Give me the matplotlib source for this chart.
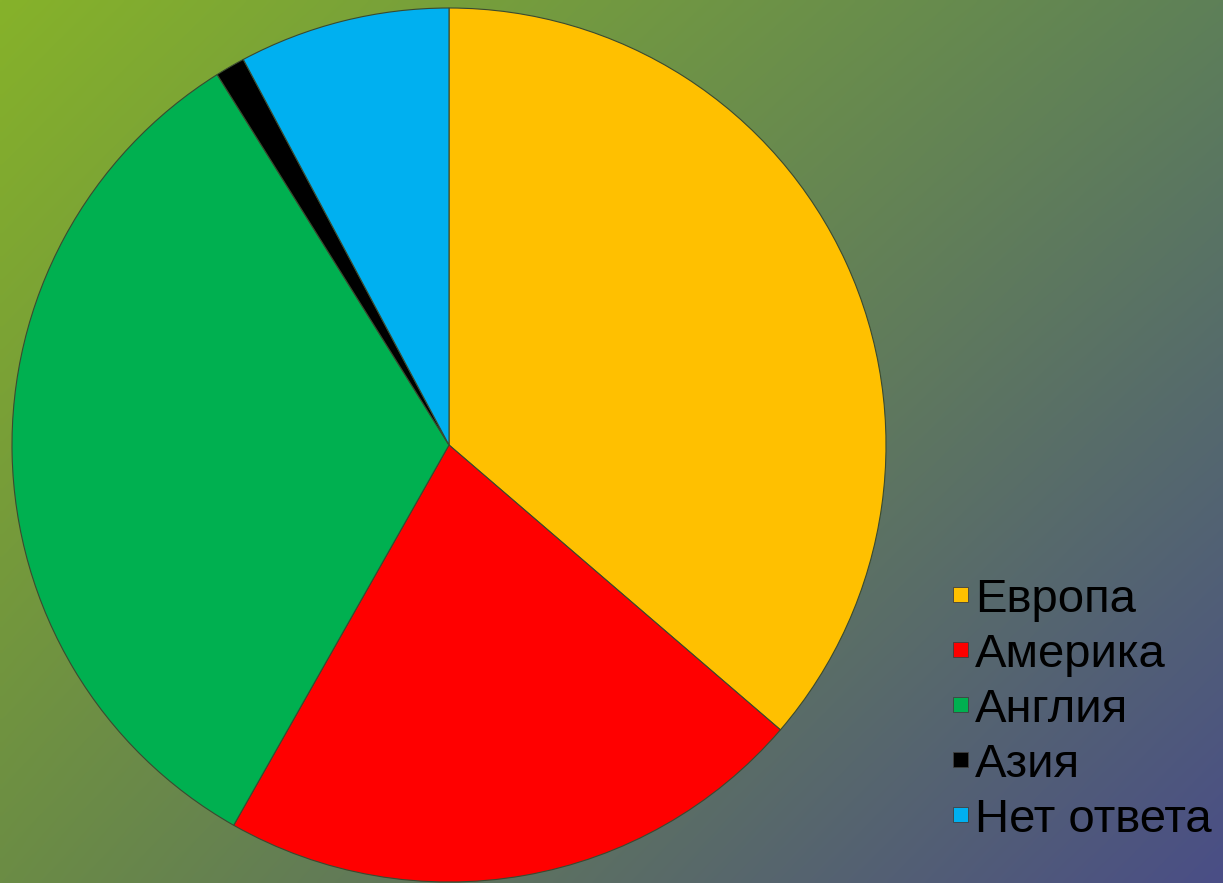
import numpy as np
import matplotlib
matplotlib.use("Agg")
import matplotlib.pyplot as plt
from matplotlib.patches import Rectangle

labels = ["Европа", "Америка", "Англия", "Азия", "Нет ответа"]
values = [36.3, 21.9, 32.9, 1.1, 7.8]
colors = ["#FFC000", "#FF0000", "#00B050", "#000000", "#00B0F0"]

W, H = 1223, 883
fig = plt.figure(figsize=(W / 100, H / 100), dpi=100)

# gradient background (bilinear between corner colours)
tl = np.array([0x86, 0xB2, 0x2A]) / 255
tr = np.array([0x5E, 0x80, 0x58]) / 255
bl = np.array([0x6B, 0x8C, 0x45]) / 255
br = np.array([0x4A, 0x4E, 0x86]) / 255
u = np.linspace(0, 1, 256)[None, :, None]
v = np.linspace(0, 1, 256)[:, None, None]
img = (1 - v) * ((1 - u) * tl + u * tr) + v * ((1 - u) * bl + u * br)
bg = fig.add_axes([0, 0, 1, 1])
bg.imshow(img, aspect="auto", extent=[0, 1, 0, 1], interpolation="bilinear")
bg.axis("off")

# pie
cx, cy, r = 449, 445, 437
ax = fig.add_axes([(cx - r) / W, (H - cy - r) / H, 2 * r / W, 2 * r / H])
ax.pie(values, colors=colors, startangle=90, counterclock=False,
       wedgeprops=dict(edgecolor="#3a4a30", linewidth=0.8))
ax.set_xlim(-1, 1)
ax.set_ylim(-1, 1)
ax.set_aspect("equal")
ax.axis("off")

# legend
base0 = 612
step = 55
for i, (lab, col) in enumerate(zip(labels, colors)):
    by = base0 + i * step
    sq = 15
    fig.patches.append(Rectangle((953 / W, (H - (by - 10)) / H), sq / W, sq / H,
                                 transform=fig.transFigure, facecolor=col,
                                 edgecolor="#404040", linewidth=0.6))
    fig.text(975 / W, (H - by) / H, lab, fontsize=34, family="Liberation Sans",
             color="black", va="baseline", ha="left")

fig.savefig("out.png", dpi=100)
